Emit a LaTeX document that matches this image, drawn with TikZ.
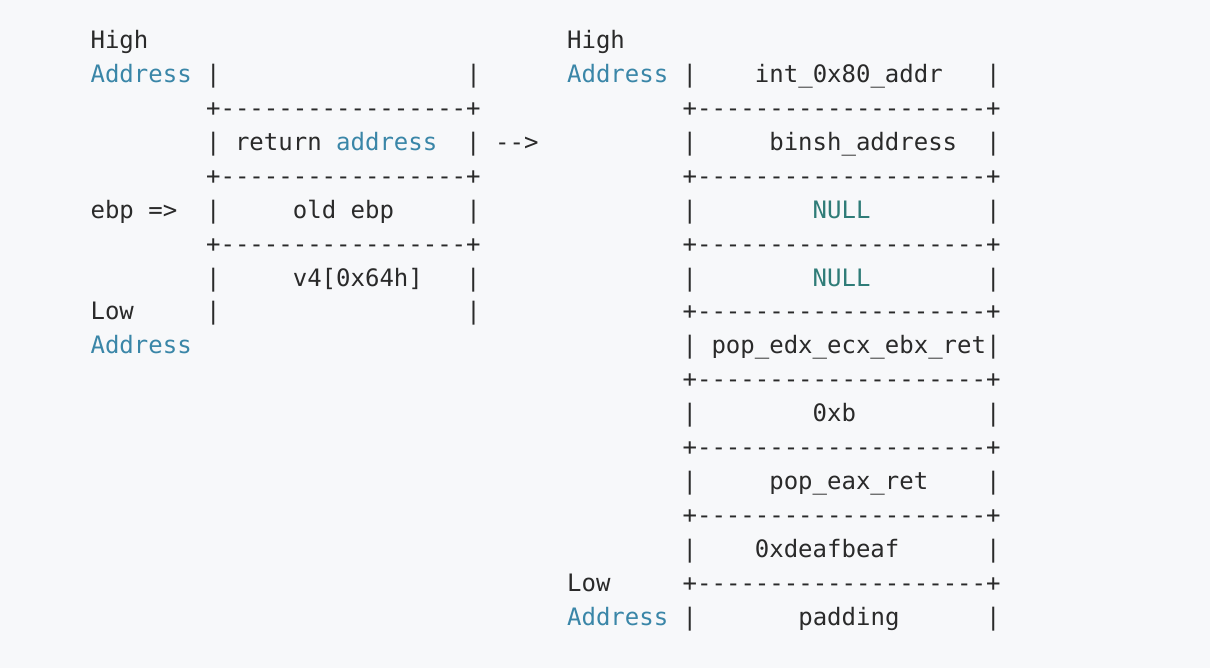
\documentclass[tikz,border=0pt]{standalone}
\usepackage{fontspec}
\setmonofont{DejaVu Sans Mono}[Ligatures=TeXOff]
\definecolor{bg}{HTML}{F7F8FA}
\definecolor{txt}{HTML}{2A2A2A}
\definecolor{kw}{HTML}{3A86A8}
\definecolor{nul}{HTML}{2F7C78}
\newcommand{\kwd}[1]{\textcolor{kw}{#1}}
\newcommand{\nul}[1]{\textcolor{nul}{#1}}
\newcommand{\rowtext}[4]{\node[rowstyle] (#1) at ({90.6+#2*14.44},{48.5+#3*33.93}) {#4};}
\newcommand{\dashL}{+-----------------+}
\newcommand{\dashR}{+--------------------+}
\begin{document}
\begin{tikzpicture}[x=1pt,y=-1pt,
  rowstyle/.style={anchor=base west, inner sep=0pt, outer sep=0pt, text=txt,
    font=\ttfamily\fontsize{24}{24}\selectfont}]
\fill[bg] (0,0) rectangle (1210,668);
\useasboundingbox (0,0) rectangle (1210,668);
% left stack
\rowtext{l0}{0}{0}{High}
\rowtext{l1}{0}{1}{\kwd{Address}~|~~~~~~~~~~~~~~~~~|}
\rowtext{l2}{8}{2}{\dashL}
\rowtext{l3}{8}{3}{|~return~\kwd{address}~~|~-->}
\rowtext{l4}{8}{4}{\dashL}
\rowtext{l5}{0}{5}{ebp~=>~~|~~~~~old~ebp~~~~~|}
\rowtext{l6}{8}{6}{\dashL}
\rowtext{l7}{8}{7}{|~~~~~v4[0x64h]~~~|}
\rowtext{l8}{0}{8}{Low~~~~~|~~~~~~~~~~~~~~~~~|}
\rowtext{l9}{0}{9}{\kwd{Address}}
% right stack
\rowtext{r0}{33}{0}{High}
\rowtext{r1}{33}{1}{\kwd{Address}~|~~~~int\_0x80\_addr~~~|}
\rowtext{r2}{41}{2}{\dashR}
\rowtext{r3}{41}{3}{|~~~~~binsh\_address~~|}
\rowtext{r4}{41}{4}{\dashR}
\rowtext{r5}{41}{5}{|~~~~~~~~\nul{NULL}~~~~~~~~|}
\rowtext{r6}{41}{6}{\dashR}
\rowtext{r7}{41}{7}{|~~~~~~~~\nul{NULL}~~~~~~~~|}
\rowtext{r8}{41}{8}{\dashR}
\rowtext{r9}{41}{9}{|~pop\_edx\_ecx\_ebx\_ret|}
\rowtext{r10}{41}{10}{\dashR}
\rowtext{r11}{41}{11}{|~~~~~~~~0xb~~~~~~~~~|}
\rowtext{r12}{41}{12}{\dashR}
\rowtext{r13}{41}{13}{|~~~~~pop\_eax\_ret~~~~|}
\rowtext{r14}{41}{14}{\dashR}
\rowtext{r15}{41}{15}{|~~~~0xdeafbeaf~~~~~~|}
\rowtext{r16}{33}{16}{Low~~~~~\dashR}
\rowtext{r17}{33}{17}{\kwd{Address}~|~~~~~~~padding~~~~~~|}
\end{tikzpicture}
\end{document}
